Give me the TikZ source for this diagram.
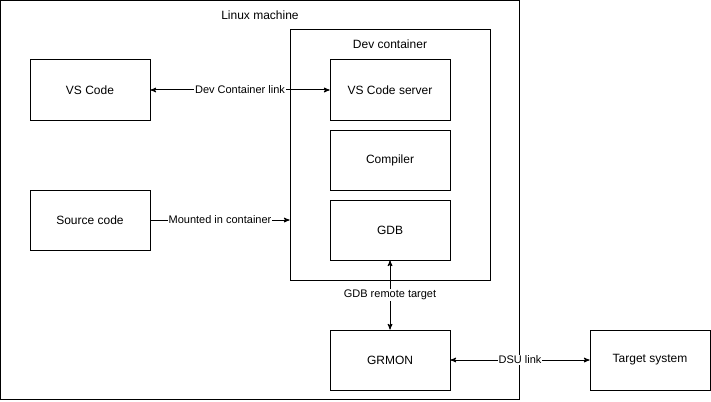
\documentclass[tikz,border=0pt]{standalone}
\usepackage{fontspec}
\setmainfont{Liberation Sans}
\usetikzlibrary{arrows, positioning}

\tikzset{
  block/.style={draw, line width=1pt, minimum width=120pt, minimum height=60pt, inner sep=0pt, font=\fontsize{12}{14}\selectfont},
  frame/.style={draw, line width=1pt, inner sep=0pt},
  link/.style={line width=1pt, >=stealth'},
  linklbl/.style={fill=white, inner sep=1pt, font=\fontsize{11}{13}\selectfont}
}

\begin{document}
\begin{tikzpicture}[x=1pt, y=-1pt]
\useasboundingbox (0,0) rectangle (711,401);

\node[frame, minimum width=519pt, minimum height=399pt] (linux) at (260,200) {}; %linux machine
\node[below=7pt of linux.north, font=\fontsize{12}{14}\selectfont] (linuxlbl) {Linux machine};

\node[frame, minimum width=200pt, minimum height=250pt] (dev) at (390,155) {}; %dev container
\node[below=7pt of dev.north, font=\fontsize{12}{14}\selectfont] (devlbl) {Dev container};

\node[block] (vscode) at (90,90) {VS Code};
\node[block] (source) at (90,220) {Source code};

\node[block] (server) at (390,90) {VS Code server};
\node[block] (compiler) at (390,160) {Compiler};
\node[block] (gdb) at (390,230) {GDB};

\node[block] (grmon) at (390,360) {GRMON};
\node[block] (target) at (650,360) {Target system};

\draw[link, <->] (vscode.east) -- (server.west) node[linklbl, midway]{Dev Container link};
\draw[link, ->] (source.east) -- (dev.west |- source.east) node[linklbl, midway]{Mounted in container};
\draw[link, <->] (gdb.south) -- (grmon.north) node[linklbl, midway]{GDB remote target};
\draw[link, <->] (grmon.east) -- (target.west) node[linklbl, midway]{DSU link};

\end{tikzpicture}
\end{document}
